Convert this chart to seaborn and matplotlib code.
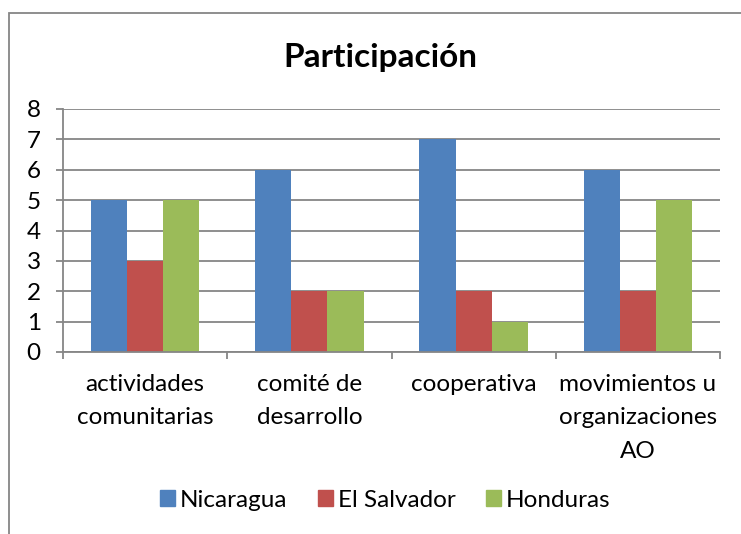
import seaborn as sns
import pandas as pd
import matplotlib.pyplot as plt
from matplotlib.patches import Rectangle

sns.set_theme(style="white")
plt.rcParams['font.family'] = ['Lato', 'DejaVu Sans']
plt.rcParams['text.color'] = 'black'

categorias = ["actividades\ncomunitarias", "comité de\ndesarrollo", "cooperativa",
              "movimientos u\norganizaciones\nAO"]
paises = ["Nicaragua", "El Salvador", "Honduras"]
nicaragua = [5, 6, 7, 6]
el_salvador = [3, 2, 2, 2]
honduras = [5, 2, 1, 5]
colores = ["#4F81BD", "#C0504D", "#9BBB59"]

rows = []
for pais, vals in zip(paises, [nicaragua, el_salvador, honduras]):
    for cat, v in zip(categorias, vals):
        rows.append([cat, pais, v])
df = pd.DataFrame(rows, columns=["Categoria", "Pais", "Valor"])

fig = plt.figure(figsize=(7.41, 5.34), dpi=100)
ax = fig.add_axes([63 / 741, 1 - 352 / 534, 657 / 741, 243 / 534])

grid_c = "#868686"
fs = 17.5
ax.set_axisbelow(True)
ax.yaxis.grid(True, color=grid_c, linewidth=1.3)

p = sns.barplot(data=df, x="Categoria", y="Valor", hue="Pais", palette=colores,
                width=0.66, saturation=1, ax=ax, edgecolor="none", linewidth=0)

ax.set_ylim(0, 8)
ax.set_xlim(-0.5, 3.5)
ax.set_yticks(range(0, 9))
ax.set_xlabel("")
ax.set_ylabel("")
ax.tick_params(axis="y", labelsize=fs, length=5, color=grid_c, width=1.3, pad=11,
               left=True, labelcolor="black")
ax.set_xticks([-0.5, 0.5, 1.5, 2.5, 3.5], minor=True)
ax.tick_params(axis="x", which="major", length=0, labelsize=fs, pad=16,
               labelcolor="black")
ax.tick_params(axis="x", which="minor", length=5, color=grid_c, width=1.3,
               bottom=True)
for lbl in ax.get_xticklabels():
    lbl.set_linespacing(1.72)

for s in ["top", "right"]:
    ax.spines[s].set_visible(False)
for s in ["left", "bottom"]:
    ax.spines[s].set_color(grid_c)
    ax.spines[s].set_linewidth(1.3)

ax.legend_.remove()
handles = [Rectangle((0, 0), 1, 1, color=c) for c in colores]
fig.legend(handles, paises, loc="center", bbox_to_anchor=(0.52, 0.063),
           ncol=3, frameon=False, fontsize=fs, handlelength=0.62,
           handleheight=0.62, handletextpad=0.2, columnspacing=1.25)

fig.text(0.513, 0.892, "Participación", ha="center", va="center",
         fontsize=24, fontweight="bold", color="black")

fig.patches.append(Rectangle((9 / 741, -0.1), 1.1, 1 - 13 / 534 + 0.1,
                             transform=fig.transFigure, fill=False,
                             edgecolor=grid_c, linewidth=1.3))

plt.savefig("out.png", dpi=100)
